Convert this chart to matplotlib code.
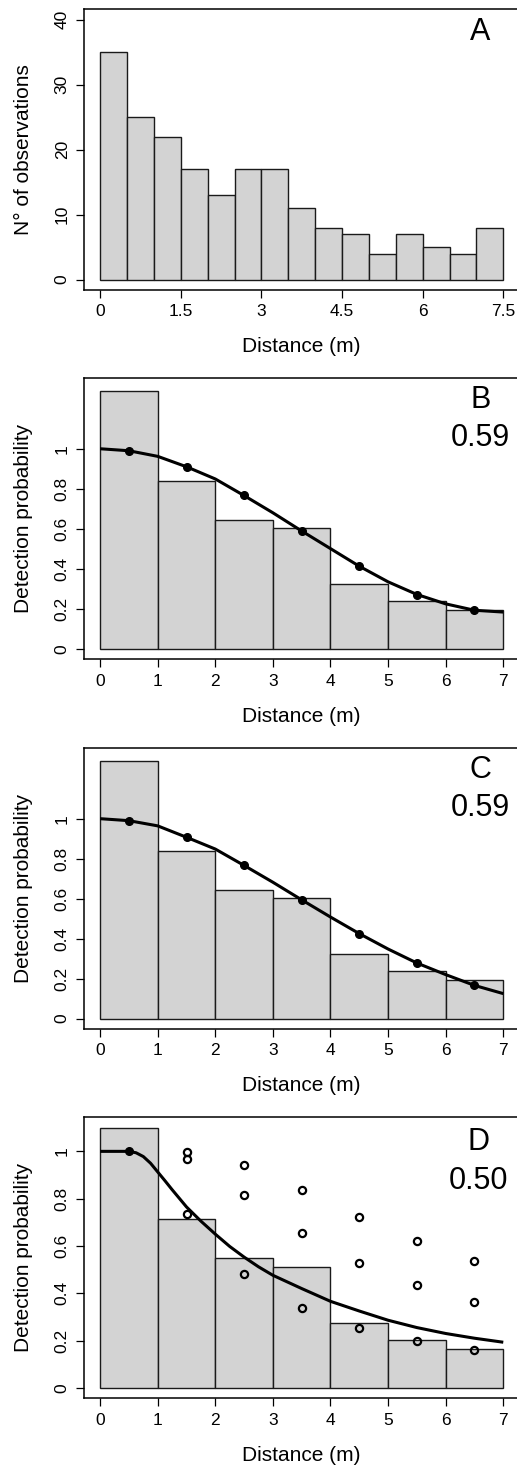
import matplotlib.pyplot as plt
import numpy as np

plt.rcParams['font.family'] = ['Liberation Sans', 'DejaVu Sans']

# panel A: raw histogram of observed distances
a_edges = [0, 0.5, 1, 1.5, 2, 2.5, 3, 3.5, 4, 4.5, 5, 5.5, 6, 6.5, 7, 7.5]
a_counts = [35, 25, 22, 17, 13, 17, 17, 11, 8, 7, 4, 7, 5, 4, 8]
a_xticks = [0, 1.5, 3, 4.5, 6, 7.5]
a_xticklabels = ['0', '1.5', '3', '4.5', '6', '7.5']
a_yticks = [0, 10, 20, 30, 40]

# panels B-D: scaled histograms, 1 m bins
bin_edges = [0, 1, 2, 3, 4, 5, 6, 7]
mids = [0.5, 1.5, 2.5, 3.5, 4.5, 5.5, 6.5]
p_yticks = [0, 0.2, 0.4, 0.6, 0.8, 1]
p_yticklabels = ['0', '0.2', '0.4', '0.6', '0.8', '1']
p_xticks = [0, 1, 2, 3, 4, 5, 6, 7]

b_hist = [1.29, 0.84, 0.645, 0.603, 0.323, 0.237, 0.195]
b_points = [0.99, 0.91, 0.77, 0.59, 0.413, 0.27, 0.193]
b_curve_x = [0, 0.5, 1, 1.5, 2, 2.5, 3, 3.5, 4, 4.5, 5, 5.5, 6, 6.5, 7]
b_curve_y = [1.0, 0.99, 0.962, 0.91, 0.849, 0.766, 0.68, 0.589, 0.501,
             0.413, 0.335, 0.272, 0.225, 0.193, 0.184]

c_hist = [1.29, 0.84, 0.644, 0.601, 0.323, 0.238, 0.194]
c_points = [0.99, 0.907, 0.766, 0.594, 0.425, 0.278, 0.166]
c_curve_x = [0, 0.5, 1, 1.5, 2, 2.5, 3, 3.5, 4, 4.5, 5, 5.5, 6, 6.5, 7]
c_curve_y = [1.0, 0.99, 0.964, 0.907, 0.848, 0.766, 0.682, 0.594, 0.508,
             0.425, 0.348, 0.278, 0.220, 0.166, 0.125]

d_hist = [1.098, 0.714, 0.549, 0.513, 0.275, 0.2015, 0.165]
d_filled_x = [0.5]
d_filled_y = [1.0]
d_open_x = [1.5, 1.5, 1.5, 2.5, 2.5, 2.5, 3.5, 3.5, 3.5,
            4.5, 4.5, 4.5, 5.5, 5.5, 5.5, 6.5, 6.5, 6.5]
d_open_y = [0.997, 0.969, 0.734, 0.944, 0.817, 0.48, 0.837, 0.655, 0.338,
            0.721, 0.53, 0.252, 0.62, 0.435, 0.199, 0.537, 0.365, 0.161]
d_curve_x = [0, 0.5, 0.625, 0.75, 0.875, 1, 1.125, 1.25, 1.5, 1.75, 2,
             2.25, 2.5, 2.75, 3, 3.5, 4, 4.5, 5, 5.5, 6, 6.5, 7]
d_curve_y = [1.0, 1.0, 0.994, 0.978, 0.95, 0.913, 0.876, 0.838, 0.765,
             0.705, 0.65, 0.598, 0.553, 0.512, 0.476, 0.42, 0.366, 0.325,
             0.286, 0.255, 0.23, 0.21, 0.193]

W, H = 517, 1466
fig = plt.figure(figsize=(W / 100, H / 100), dpi=100)

# box tops/bottoms in pixels
boxes = [(9.3, 290.0), (378.3, 659.3), (748.3, 1029.0), (1117.3, 1398.3)]
left_px, right_px = 84, 519.4
axes = []
for top, bot in boxes:
    ax = fig.add_axes([left_px / W, (H - bot) / H, (right_px - left_px) / W, (bot - top) / H])
    axes.append(ax)

bar_kw = dict(color='#d3d3d3', edgecolor='#1a1a1a', linewidth=1.0, align='edge')


def style(ax, ylabel, ymax):
    for s in ax.spines.values():
        s.set_linewidth(1.1)
    ax.tick_params(direction='out', length=5.8, width=0.9, labelsize=12.5, color='black')
    ax.tick_params(axis='x', pad=4.5)
    ax.tick_params(axis='y', pad=4.5, labelrotation=90)
    for lab in ax.get_yticklabels():
        lab.set_va('center')
    ax.set_xlabel('Distance (m)', fontsize=15, va='center')
    ax.xaxis.set_label_coords(0.5, -57 / 281)
    ax.set_ylabel(ylabel, fontsize=15, va='center')
    ax.yaxis.set_label_coords(-60 / (right_px - left_px), 0.5)
    ax.set_ylim(-0.04 * ymax, 1.04 * ymax)


# A
ax = axes[0]
widths = np.diff(a_edges)
ax.bar(a_edges[:-1], a_counts, width=widths, **bar_kw)
ax.set_xlim(-0.3, 7.8)
ax.set_xticks(a_xticks)
ax.set_xticklabels(a_xticklabels)
ax.set_yticks(a_yticks)
ax.set_yticklabels([str(v) for v in a_yticks])
style(ax, 'N° of observations', 40)
ax.text(7.07, 38.1, 'A', fontsize=22, ha='center', va='center')

# B, C
for ax, hist, pts, cx, cy, letter in [
        (axes[1], b_hist, b_points, b_curve_x, b_curve_y, 'B'),
        (axes[2], c_hist, c_points, c_curve_x, c_curve_y, 'C')]:
    ax.bar(bin_edges[:-1], hist, width=np.diff(bin_edges), **bar_kw)
    ax.plot(cx, cy, color='black', lw=2.2, solid_capstyle='butt')
    ax.plot(mids, pts, 'o', color='black', ms=5.5)
    ax.set_xlim(-0.28, 7.28)
    ax.set_xticks(p_xticks)
    ax.set_yticks(p_yticks)
    ax.set_yticklabels(p_yticklabels)
    style(ax, 'Detection probability', 1.3)
    ax.text(6.6, 1.244, letter, fontsize=22, ha='center', va='center')
    ax.text(6.6, 1.055, '0.59', fontsize=22, ha='center', va='center')

# D
ax = axes[3]
ax.bar(bin_edges[:-1], d_hist, width=np.diff(bin_edges), **bar_kw)
ax.plot(d_curve_x, d_curve_y, color='black', lw=2.2, solid_capstyle='butt')
ax.plot(d_filled_x, d_filled_y, 'o', color='black', ms=5.5)
ax.plot(d_open_x, d_open_y, 'o', mfc='none', mec='black', mew=1.6, ms=5.2)
ax.set_xlim(-0.28, 7.28)
ax.set_xticks(p_xticks)
ax.set_yticks(p_yticks)
ax.set_yticklabels(p_yticklabels)
style(ax, 'Detection probability', 1.1)
ax.text(6.57, 1.04, 'D', fontsize=22, ha='center', va='center')
ax.text(6.57, 0.873, '0.50', fontsize=22, ha='center', va='center')

fig.savefig('out.png', dpi=100)
